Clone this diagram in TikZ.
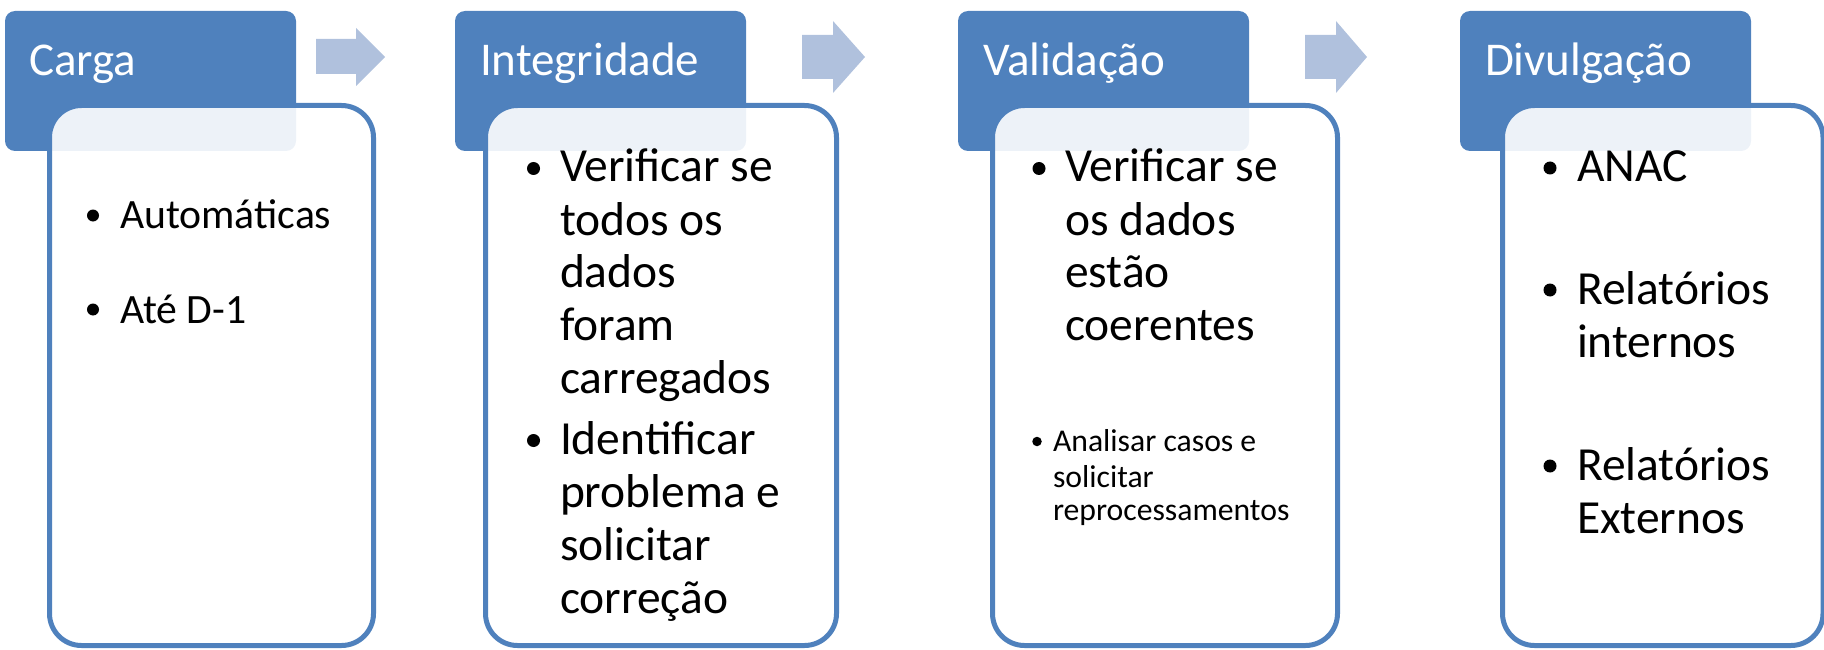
\documentclass[tikz,border=0pt]{standalone}
\usepackage{fontspec}
\setmainfont{Carlito}
\definecolor{hdrblue}{HTML}{4F81BD}
\definecolor{arrblue}{HTML}{B0C1DD}
\newcommand\fszhead{\fontsize{47}{56}\selectfont}
\newcommand\fszbig{\fontsize{47.5}{57}\selectfont}
\newcommand\fszmid{\fontsize{41.7}{50}\selectfont}
\newcommand\fszsmall{\fontsize{31.7}{38}\selectfont}
\begin{document}
\begin{tikzpicture}[x=1pt,y=-1pt,
  hdrbox/.style={fill=hdrblue, rounded corners=10pt, inner sep=0pt, outer sep=0pt, anchor=north west, minimum width=291pt, minimum height=140pt},
  bodybox/.style={draw=hdrblue, line width=5pt, fill=white, fill opacity=0.9, rounded corners=32pt, inner sep=0pt, outer sep=0pt, anchor=north west, minimum height=540pt},
  hdrtext/.style={anchor=base west, inner sep=0pt, outer sep=0pt, text=white, font=\fszhead},
  txt/.style={anchor=base west, inner sep=0pt, outer sep=0pt, text=black},
  dot/.style={circle, fill=black, inner sep=0pt, outer sep=0pt, minimum size=13pt},
  arrshape/.style={fill=arrblue}]
\clip (0,0) rectangle (1824,650);
% headers
\node[hdrbox] (h1) at (5,11) {};
\node[hdrbox] (h2) at (455,11) {};
\node[hdrbox] (h3) at (958,11) {};
\node[hdrbox] (h4) at (1460,11) {};
% bodies
\node[bodybox, minimum width=324pt] (b1) at (49.5,105.5) {};
\node[bodybox, minimum width=351pt] (b2) at (485.5,105.5) {};
\node[bodybox, minimum width=345pt] (b3) at (992.5,105.5) {};
\node[bodybox, minimum width=320.5pt] (b4) at (1502.5,105.5) {};
% header texts
\node[hdrtext] (t1) at (29,76) {Carga};
\node[hdrtext] (t2) at (480,76) {Integridade};
\node[hdrtext] (t3) at (983,76) {Validação};
\node[hdrtext] (t4) at (1485,76) {Divulgação};
% arrows
\fill[arrshape] (316,39) -- (356,39) -- (356,28) -- (385,57) -- (356,86) -- (356,74) -- (316,74) -- cycle;
\fill[arrshape] (802,35) -- (833,35) -- (833,21) -- (865,57) -- (833,93) -- (833,79) -- (802,79) -- cycle;
\fill[arrshape] (1305,35) -- (1336,35) -- (1336,21) -- (1367,57) -- (1336,93) -- (1336,79) -- (1305,79) -- cycle;
% box 1
\node[dot, minimum size=12pt] (p1a) at (93,215.5) {};
\node[txt, font=\fszmid] (l1a) at (120,229) {Automáticas};
\node[dot, minimum size=12pt] (p1b) at (93,309.5) {};
\node[txt, font=\fszmid] (l1b) at (120,323) {Até D-1};
% box 2
\node[dot] (p2a) at (533.5,168.5) {};
\node[txt, font=\fszbig] (l2a) at (560,182) {Verificar se};
\node[txt, font=\fszbig] (l2b) at (560,235) {todos os};
\node[txt, font=\fszbig] (l2c) at (560,287) {dados};
\node[txt, font=\fszbig] (l2d) at (560,340) {foram};
\node[txt, font=\fszbig] (l2e) at (560,393) {carregados};
\node[dot] (p2b) at (533.5,440.5) {};
\node[txt, font=\fszbig] (l2f) at (560,454) {Identificar};
\node[txt, font=\fszbig] (l2g) at (560,507) {problema e};
\node[txt, font=\fszbig] (l2h) at (560,560) {solicitar};
\node[txt, font=\fszbig] (l2i) at (560,613) {correção};
% box 3
\node[dot] (p3a) at (1039,168.5) {};
\node[txt, font=\fszbig] (l3a) at (1065,182) {Verificar se};
\node[txt, font=\fszbig] (l3b) at (1065,235) {os dados};
\node[txt, font=\fszbig] (l3c) at (1065,287) {estão};
\node[txt, font=\fszbig] (l3d) at (1065,340) {coerentes};
\node[dot, minimum size=9.5pt] (p3b) at (1037,441.5) {};
\node[txt, font=\fszsmall] (l3e) at (1053,451) {Analisar casos e};
\node[txt, font=\fszsmall] (l3f) at (1053,487) {solicitar};
\node[txt, font=\fszsmall] (l3g) at (1053,520) {reprocessamentos};
% box 4
\node[dot] (p4a) at (1550,168) {};
\node[txt, font=\fszbig] (l4a) at (1577,182) {ANAC};
\node[dot] (p4b) at (1550,290) {};
\node[txt, font=\fszbig] (l4b) at (1577,304) {Relatórios};
\node[txt, font=\fszbig] (l4c) at (1577,357) {internos};
\node[dot] (p4c) at (1550,466) {};
\node[txt, font=\fszbig] (l4d) at (1577,480) {Relatórios};
\node[txt, font=\fszbig] (l4e) at (1577,533) {Externos};
\end{tikzpicture}
\end{document}
